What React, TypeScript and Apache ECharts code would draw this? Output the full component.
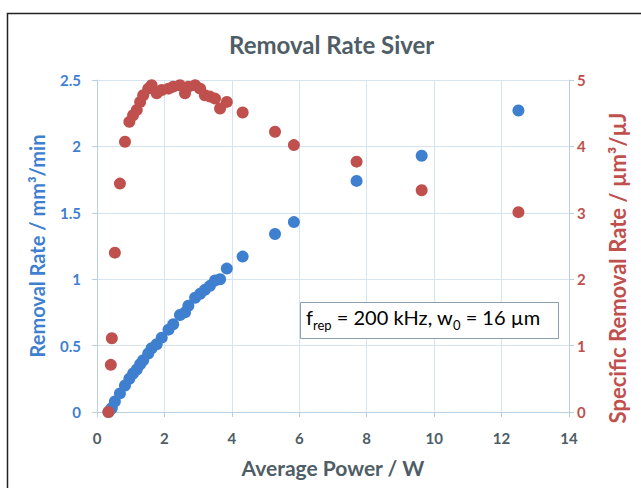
import React, { useEffect, useRef } from "react";
import * as echarts from "echarts";

const power = [0.34, 0.41, 0.44, 0.53, 0.68, 0.83, 0.96, 1.07, 1.18, 1.28, 1.37, 1.52, 1.62, 1.77, 1.92, 2.12, 2.26, 2.46, 2.61, 2.71, 2.91, 3.06, 3.2, 3.35, 3.5, 3.65, 3.85, 4.32, 5.28, 5.84, 7.7, 9.63, 12.5];
const removalRate = [0, 0.02, 0.03, 0.08, 0.14, 0.2, 0.25, 0.29, 0.32, 0.36, 0.39, 0.44, 0.48, 0.51, 0.56, 0.62, 0.66, 0.73, 0.75, 0.8, 0.86, 0.89, 0.92, 0.95, 0.99, 1.0, 1.08, 1.17, 1.34, 1.43, 1.74, 1.93, 2.27];
const specificRate = [0, 0.71, 1.11, 2.4, 3.44, 4.07, 4.37, 4.47, 4.55, 4.67, 4.77, 4.87, 4.92, 4.8, 4.85, 4.87, 4.9, 4.92, 4.8, 4.9, 4.92, 4.87, 4.77, 4.75, 4.72, 4.57, 4.67, 4.51, 4.22, 4.02, 3.77, 3.34, 3.01];

const BLUE = "#3f7fcf";
const RED = "#c0504d";
const SLATE = "#4e5d66";
const GRID = "#d6e4ef";
const AXIS = "#b9d0e3";
const FONT = "Lato, 'Open Sans', sans-serif";

export default function App() {
  const ref = useRef<HTMLDivElement>(null);
  useEffect(() => {
    if (!ref.current) return;
    const chart = echarts.init(ref.current, null, { renderer: "svg" });
    chart.setOption({
      animation: false,
      backgroundColor: "#ffffff",
      textStyle: { fontFamily: FONT },
      title: {
        text: "Removal Rate Siver",
        left: 224,
        top: 27,
        textStyle: { fontFamily: FONT, fontSize: 24, fontWeight: "bold", color: SLATE },
      },
      grid: { left: 97, right: 72, top: 80, bottom: 76 },
      xAxis: {
        type: "value",
        min: 0,
        max: 14,
        interval: 2,
        name: "Average Power / W",
        nameLocation: "middle",
        nameGap: 45,
        nameTextStyle: { fontFamily: FONT, fontSize: 21, fontWeight: "bold", color: SLATE },
        axisLine: { show: true, lineStyle: { color: AXIS } },
        axisTick: { show: true, length: 5, lineStyle: { color: AXIS } },
        axisLabel: { fontFamily: FONT, fontSize: 15, fontWeight: "bold", color: SLATE, margin: 18 },
        splitLine: { show: true, lineStyle: { color: GRID } },
      },
      yAxis: [
        {
          type: "value",
          min: 0,
          max: 2.5,
          interval: 0.5,
          name: "Removal Rate / mm³/min",
          nameLocation: "middle",
          nameRotate: 90,
          nameGap: 50,
          nameTextStyle: { fontFamily: FONT, fontSize: 20, fontWeight: "bold", color: BLUE },
          axisLine: { show: true, lineStyle: { color: AXIS } },
          axisTick: { show: true, length: 5, lineStyle: { color: AXIS } },
          axisLabel: { fontFamily: FONT, fontSize: 15, fontWeight: "bold", color: BLUE, margin: 16 },
          splitLine: { show: true, lineStyle: { color: GRID } },
        },
        {
          type: "value",
          min: 0,
          max: 5,
          interval: 1,
          position: "right",
          name: "Specific Removal Rate / µm³/µJ",
          nameLocation: "middle",
          nameRotate: 90,
          nameGap: 37,
          nameTextStyle: { fontFamily: FONT, fontSize: 22, fontWeight: "bold", color: RED, padding: [0, 44, 0, 0] },
          axisLine: { show: true, lineStyle: { color: AXIS } },
          axisTick: { show: true, length: 5, lineStyle: { color: AXIS } },
          axisLabel: { fontFamily: FONT, fontSize: 15, fontWeight: "bold", color: RED, margin: 8 },
          splitLine: { show: false },
        },
      ],
      series: [
        {
          type: "scatter",
          yAxisIndex: 0,
          symbolSize: 12,
          itemStyle: { color: BLUE, opacity: 1 },
          data: power.map((p, i) => [p, removalRate[i]]),
          z: 2,
        },
        {
          type: "scatter",
          yAxisIndex: 1,
          symbolSize: 12,
          itemStyle: { color: RED, opacity: 1 },
          data: power.map((p, i) => [p, specificRate[i]]),
          z: 3,
        },
      ],
      graphic: [
        {
          type: "rect",
          left: 5,
          top: 11,
          shape: { width: 700, height: 600 },
          style: { fill: "none", stroke: "#222", lineWidth: 1.5 },
          silent: true,
        },
        {
          type: "rect",
          left: 300,
          top: 302,
          shape: { width: 258, height: 36 },
          style: { fill: "#ffffff", stroke: "#8a9eae", lineWidth: 1 },
          z: 100,
        },
        {
          type: "text",
          left: 306,
          top: 307,
          z: 101,
          style: {
            text: "{n|f}{s|rep}{n| = 200 kHz, w}{s|0}{n| = 16 µm}",
            rich: {
              n: { fontFamily: FONT, fontSize: 20, color: "#222", verticalAlign: "bottom", lineHeight: 24 },
              s: { fontFamily: FONT, fontSize: 13, color: "#222", verticalAlign: "bottom", lineHeight: 17, padding: [0, 0, -4, 0] },
            },
          },
        },
      ],
    });
    return () => chart.dispose();
  }, []);
  return <div ref={ref} style={{ position: "fixed", left: 0, top: 0, width: 641, height: 488 }} />;
}
